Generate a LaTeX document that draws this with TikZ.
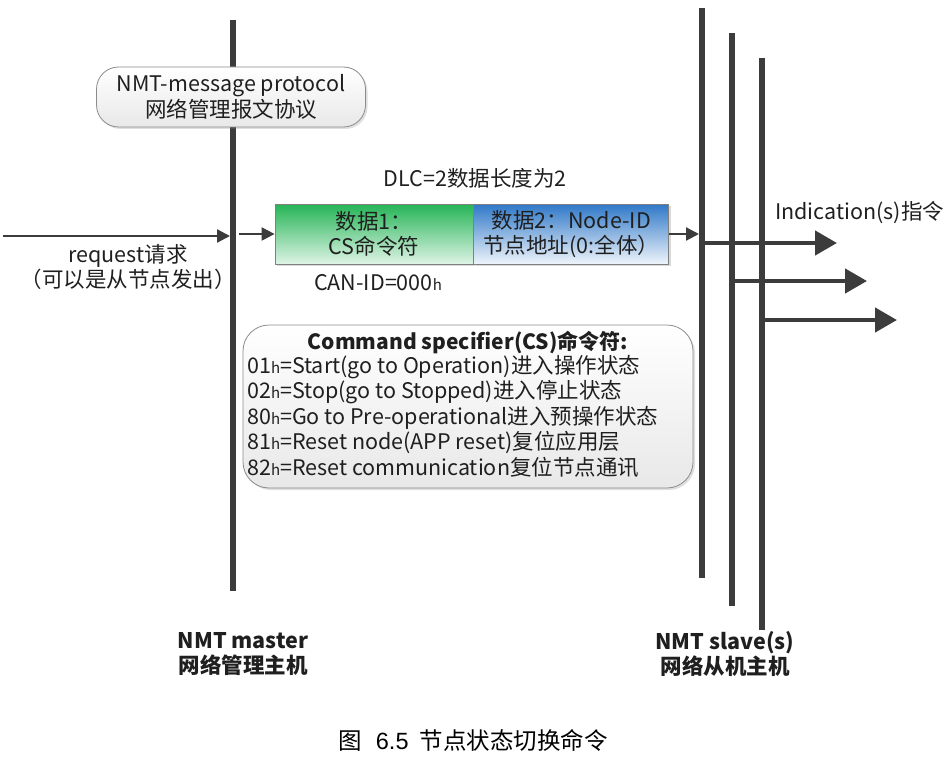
\documentclass[tikz,border=0pt]{standalone}
\usepackage{fontspec}
\setmainfont{Noto Sans CJK SC}
\newfontfamily\capfont{Liberation Sans}
\usetikzlibrary{positioning,shadows,arrows.meta}

\definecolor{busgray}{HTML}{3C3C3C}
\definecolor{boxgreen}{HTML}{25B456}
\definecolor{boxblue}{HTML}{2F78C8}
\newcommand\hsub{{\fontsize{15}{15}\selectfont h}}

\begin{document}
\begin{tikzpicture}[x=1pt, y=-1pt,
  txt/.style={font=\fontsize{21.5}{25.5}\selectfont, inner sep=0pt, text=black!88},
  bus/.style={line width=6pt, draw=busgray},
  roundbox/.style={draw=black!45, line width=0.8pt, rounded corners=22pt,
    top color=white, bottom color=black!9,
    drop shadow={opacity=0.25, shadow xshift=2pt, shadow yshift=-2pt}},
  databox/.style={draw=black!50, line width=0.8pt, minimum height=60pt, inner sep=0pt,
    align=center, font=\fontsize{21.5}{25.5}\selectfont, text=black!88,
    drop shadow={opacity=0.3, shadow xshift=2pt, shadow yshift=-2pt}},
  thin arrow/.style={line width=2.2pt, draw=busgray, -{Triangle[length=13pt, width=13pt]}},
  big arrow/.style={line width=4.5pt, draw=busgray, -{Triangle[length=22pt, width=24pt]}}]
  \useasboundingbox (0,0) rectangle (948,757);

  % bus lines
  \coordinate (mtop) at (233,20);
  \coordinate (mbot) at (233,591);
  \coordinate (s1top) at (702,8);
  \coordinate (s1bot) at (702,578);
  \coordinate (s2top) at (732,33);
  \coordinate (s2bot) at (732,606);
  \coordinate (s3top) at (762,58);
  \coordinate (s3bot) at (762,630);
  \draw[bus] (mtop) -- (mbot);
  \draw[bus] (s1top) -- (s1bot);
  \draw[bus] (s2top) -- (s2bot);
  \draw[bus] (s3top) -- (s3bot);

  \node[roundbox, minimum width=269pt, minimum height=60pt, txt, align=center]
    (proto) at (231,97) {NMT-message protocol\\网络管理报文协议};

  % data frame
  \node[databox, minimum width=198pt, top color=boxgreen, bottom color=boxgreen!15]
    (d1) at (374,234) {数据1：\\CS命令符};
  \node[databox, minimum width=195pt, right=0pt of d1, top color=boxblue, bottom color=boxblue!8]
    (d2) {数据2：Node-ID\\节点地址(0:全体）};
  \node[txt] (dlc) at (475,178) {DLC=2数据长度为2};
  \node[txt] (canid) at (378,283) {CAN-ID=000\hsub};

  % request
  \coordinate (reqL) at (3,236);
  \draw[thin arrow, shorten >=3pt] (reqL) -- (reqL -| mtop);
  \node[txt, align=center] (reqtxt) at (128,267) {request请求\\（可以是从节点发出）};
  \draw[thin arrow, shorten <=6pt] (d1.west -| mtop) -- (d1.west);
  \draw[thin arrow, shorten >=3pt] (d2.east) -- (d2.east -| s1top);

  % indications
  \coordinate (ind1) at (837,243);
  \coordinate (ind2) at (867,281);
  \coordinate (ind3) at (897,320);
  \draw[big arrow] (ind1 -| s1top) -- (ind1);
  \draw[big arrow] (ind2 -| s2top) -- (ind2);
  \draw[big arrow] (ind3 -| s3top) -- (ind3);
  \node[txt, anchor=west] (indtxt) at (775,213) {Indication(s)指令};

  % command specifier
  \node[roundbox, rounded corners=26pt, minimum width=450pt, minimum height=163pt]
    (cs) at (468,406.5) {};
  \node[txt, font=\fontsize{21}{25}\selectfont\bfseries] (cstitle) at (468,342)
    {Command specifier(CS)命令符:};
  \node[txt, align=left, anchor=west] (cslist) at (247,416)
    {01\hsub=Start(go to Operation)进入操作状态\\
     02\hsub=Stop(go to Stopped)进入停止状态\\
     80\hsub=Go to Pre-operational进入预操作状态\\
     81\hsub=Reset node(APP reset)复位应用层\\
     82\hsub=Reset communication复位节点通讯};

  \node[txt, font=\fontsize{21.5}{25.5}\selectfont\bfseries, align=center] (master) at (243,654)
    {NMT master\\网络管理主机};
  \node[txt, font=\fontsize{21.5}{25.5}\selectfont\bfseries, align=center] (slave) at (725,654)
    {NMT slave(s)\\网络从机主机};
  \node[txt, font=\fontsize{23.5}{26}\selectfont, text=black] (caption) at (473,740)
    {图\hspace{14pt}{\capfont 6.5}\hspace{11pt}节点状态切换命令};
\end{tikzpicture}
\end{document}
